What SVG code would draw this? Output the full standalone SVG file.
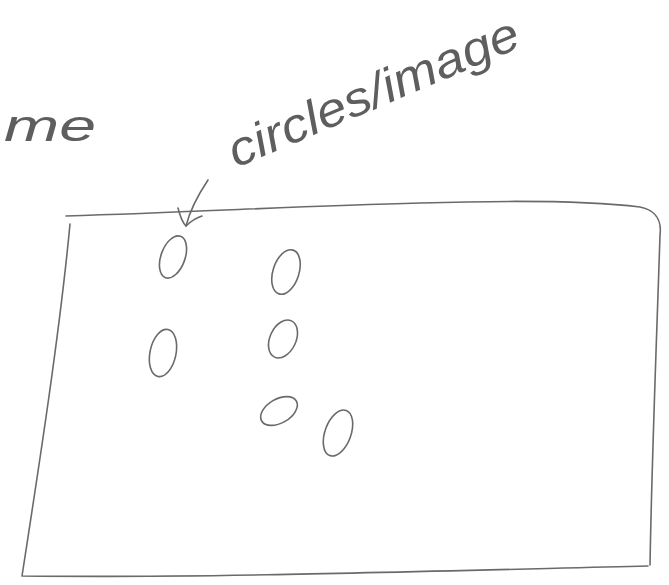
<svg xmlns="http://www.w3.org/2000/svg" width="669" height="585" viewBox="0 0 669 585">
<style>
.s{fill:none;stroke:#6a6a6a;stroke-width:1.6;stroke-linecap:round;stroke-linejoin:round}
.t{font-family:"Liberation Sans",sans-serif;font-style:italic;fill:#5e5e5e}
</style>
<rect width="669" height="585" fill="#ffffff"/>
<g id="labels">
<text class="t" x="4" y="141" font-size="44" textLength="92" lengthAdjust="spacingAndGlyphs">me</text>
<text class="t" x="236" y="168" font-size="48" textLength="312" lengthAdjust="spacingAndGlyphs" transform="rotate(-23 236 168)">circles/image</text>
</g>
<g id="frame">
<path class="s" d="M66,216 C200,212 300,206 420,203 C520,200 600,202 640,207 C655,210 662,220 660,235 C657,330 652,450 650,565"/>
<path class="s" d="M70,224 C60,330 40,460 22,576 C200,578 400,572 648,566"/>
</g>
<g id="connectors">
<path class="s" d="M208,180 C198,195 190,210 186,226"/>
<path class="s" d="M178,208 C180,216 182,222 186,226 C190,222 196,218 202,216"/>
</g>
<g id="c1"><ellipse class="s" cx="173" cy="257" rx="12" ry="22" transform="rotate(20 173 257)"/></g>
<g id="c2"><ellipse class="s" cx="286" cy="272" rx="13" ry="23" transform="rotate(18 286 272)"/></g>
<g id="c3"><ellipse class="s" cx="163" cy="353" rx="13" ry="24" transform="rotate(12 163 353)"/></g>
<g id="c4"><ellipse class="s" cx="283" cy="339" rx="13" ry="20" transform="rotate(25 283 339)"/></g>
<g id="c5"><ellipse class="s" cx="279" cy="411" rx="20" ry="12" transform="rotate(-30 279 411)"/></g>
<g id="c6"><ellipse class="s" cx="338" cy="433" rx="13" ry="24" transform="rotate(20 338 433)"/></g>
</svg>
